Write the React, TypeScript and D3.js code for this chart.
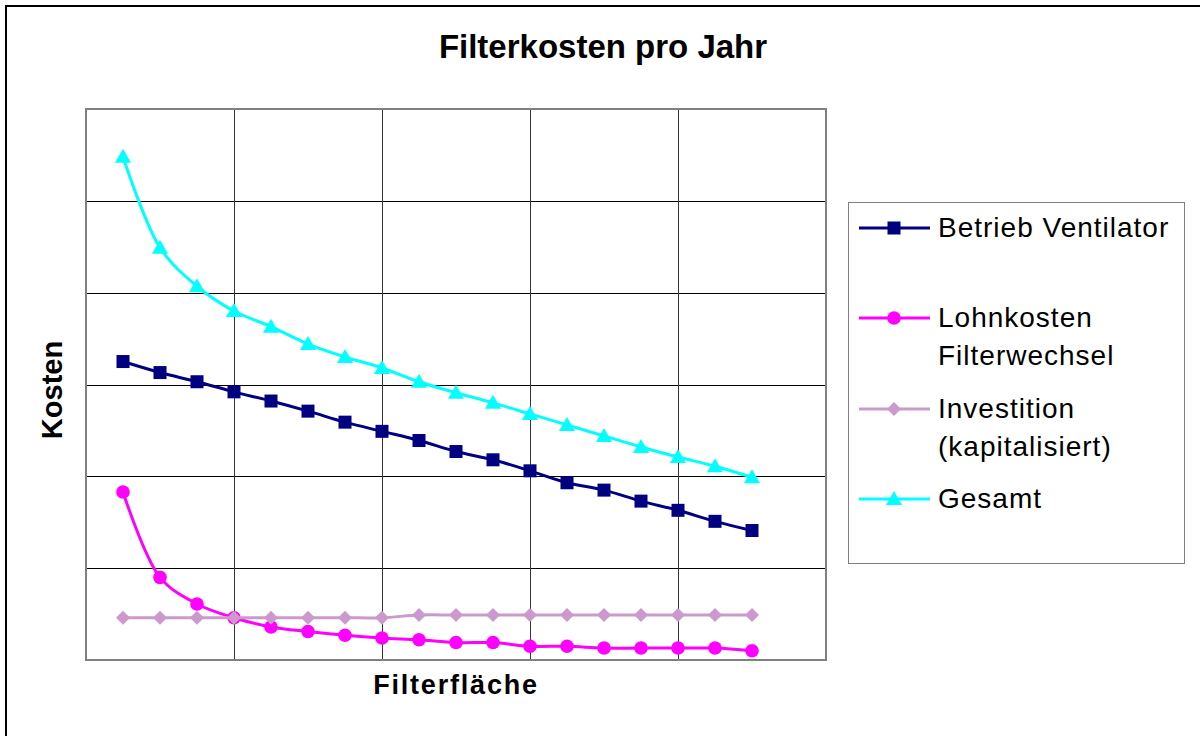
import React from "react";
import * as d3 from "d3";

// Filter area steps (x positions on a 0..20 axis) and cost series
const steps = [1, 2, 3, 4, 5, 6, 7, 8, 9, 10, 11, 12, 13, 14, 15, 16, 17, 18];
const betriebVentilator = [3.25, 3.13, 3.03, 2.92, 2.82, 2.71, 2.59, 2.49, 2.39, 2.27, 2.18, 2.06, 1.93, 1.85, 1.73, 1.63, 1.51, 1.41];
const lohnkosten = [1.83, 0.9, 0.61, 0.46, 0.36, 0.31, 0.27, 0.24, 0.22, 0.19, 0.19, 0.15, 0.15, 0.13, 0.13, 0.13, 0.13, 0.1];
const investition = [0.46, 0.46, 0.46, 0.46, 0.46, 0.46, 0.46, 0.46, 0.49, 0.49, 0.49, 0.49, 0.49, 0.49, 0.49, 0.49, 0.49, 0.49];
const gesamt = [5.48, 4.49, 4.07, 3.8, 3.63, 3.44, 3.3, 3.18, 3.03, 2.91, 2.8, 2.68, 2.56, 2.44, 2.32, 2.21, 2.11, 1.99];

const xGridTicks = [4, 8, 12, 16];
const yGridTicks = [1, 2, 3, 4, 5];

type Shape = "square" | "circle" | "diamond" | "triangle";
const series: { name: string[]; values: number[]; color: string; shape: Shape }[] = [
  { name: ["Betrieb Ventilator"], values: betriebVentilator, color: "#000080", shape: "square" },
  { name: ["Lohnkosten", "Filterwechsel"], values: lohnkosten, color: "#FF00FF", shape: "circle" },
  { name: ["Investition", "(kapitalisiert)"], values: investition, color: "#CC99CC", shape: "diamond" },
  { name: ["Gesamt"], values: gesamt, color: "#00FFFF", shape: "triangle" },
];

const FONT = "'Liberation Sans', Arial, sans-serif";

const plot = { left: 86, top: 109, right: 826, bottom: 660 };

function Marker({ x, y, shape, color }: { x: number; y: number; shape: Shape; color: string }) {
  if (shape === "square") return <rect x={x - 6.5} y={y - 6.5} width={13} height={13} fill={color} />;
  if (shape === "circle") return <circle cx={x} cy={y} r={6.8} fill={color} />;
  if (shape === "diamond")
    return <path d={`M${x},${y - 7}L${x + 7},${y}L${x},${y + 7}L${x - 7},${y}Z`} fill={color} />;
  return <path d={`M${x},${y - 8}L${x + 8},${y + 6}L${x - 8},${y + 6}Z`} fill={color} />;
}

export default function App() {
  const x = d3.scaleLinear().domain([0, 20]).range([plot.left, plot.right]);
  const y = d3.scaleLinear().domain([0, 6]).range([plot.bottom, plot.top]);
  const line = d3
    .line<number>()
    .x((_, i) => x(steps[i]))
    .y((v) => y(v))
    .curve(d3.curveCatmullRom.alpha(0.5));

  const legendRows = [228, 318, 409, 499];

  return (
    <svg width={1200} height={736} style={{ position: "absolute", left: 0, top: 0, background: "#fff" }}>
      <rect x={6} y={6} width={1210} height={750} fill="#fff" stroke="#000" strokeWidth={2} />
      <text x={603} y={58} textAnchor="middle" fontFamily={FONT} fontWeight="bold" fontSize={33} fill="#000">
        Filterkosten pro Jahr
      </text>

      {/* grid */}
      {yGridTicks.map((t) => (
        <line key={"h" + t} x1={plot.left} x2={plot.right} y1={Math.round(y(t)) + 0.5} y2={Math.round(y(t)) + 0.5} stroke="#000" strokeWidth={1} />
      ))}
      {xGridTicks.map((t) => (
        <line key={"v" + t} x1={Math.round(x(t)) + 0.5} x2={Math.round(x(t)) + 0.5} y1={plot.top} y2={plot.bottom} stroke="#333" strokeWidth={1} />
      ))}
      <rect x={plot.left} y={plot.top} width={plot.right - plot.left} height={plot.bottom - plot.top} fill="none" stroke="#808080" strokeWidth={2} />

      {/* series */}
      {series.map((s) => (
        <g key={s.name[0]}>
          <path d={line(s.values) || ""} fill="none" stroke={s.color} strokeWidth={3} />
          {s.values.map((v, i) => (
            <Marker key={i} x={x(steps[i])} y={y(v)} shape={s.shape} color={s.color} />
          ))}
        </g>
      ))}

      <text transform="translate(62,390) rotate(-90)" textAnchor="middle" fontFamily={FONT} fontWeight="bold" fontSize={29} fill="#000">
        Kosten
      </text>
      <text x={456} y={694} textAnchor="middle" fontFamily={FONT} fontWeight="bold" fontSize={27} letterSpacing={1.8} fill="#000">
        Filterfläche
      </text>

      {/* legend */}
      <rect x={848.5} y={202.5} width={336} height={361} fill="#fff" stroke="#808080" strokeWidth={1} />
      {series.map((s, k) => (
        <g key={"l" + k}>
          <line x1={859} x2={930} y1={legendRows[k]} y2={legendRows[k]} stroke={s.color} strokeWidth={3} />
          <Marker x={894} y={legendRows[k]} shape={s.shape} color={s.color} />
          {s.name.map((t, j) => (
            <text key={j} x={938} y={legendRows[k] + 9 + j * 38} fontFamily={FONT} fontSize={28} letterSpacing={1} fill="#000">
              {t}
            </text>
          ))}
        </g>
      ))}
    </svg>
  );
}
